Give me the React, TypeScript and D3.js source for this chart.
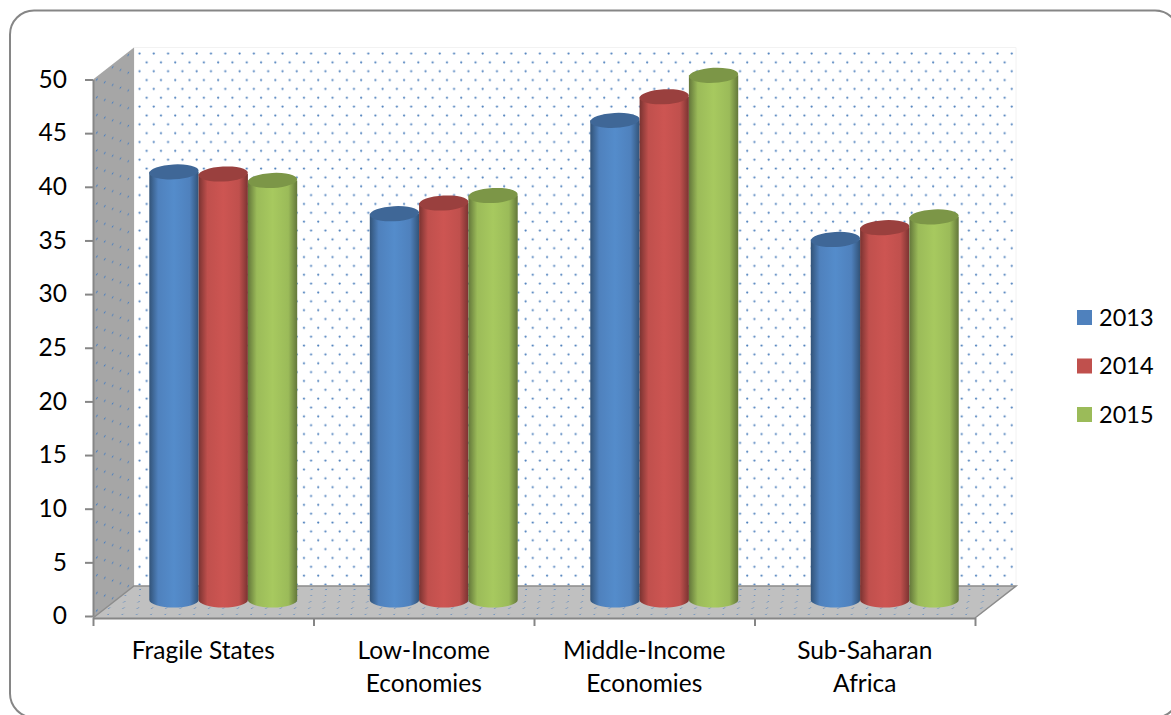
import { useEffect, useRef } from 'react';
import * as d3 from 'd3';

const categories = ['Fragile States', 'Low-Income Economies', 'Middle-Income Economies', 'Sub-Saharan Africa'];
const categoryLines = [['Fragile States'], ['Low-Income', 'Economies'], ['Middle-Income', 'Economies'], ['Sub-Saharan', 'Africa']];
const years = ['2013', '2014', '2015'];
const values2013 = [39.9, 36.0, 44.7, 33.6];
const values2014 = [39.7, 37.0, 46.9, 34.7];
const values2015 = [39.1, 37.7, 48.9, 35.7];
const yTicks = [0, 5, 10, 15, 20, 25, 30, 35, 40, 45, 50];

const seriesValues = [values2013, values2014, values2015];
const baseColors = ['#4f81bd', '#c0504d', '#9bbb59'];
const lightColors = ['#548ccb', '#cd5552', '#a7c95f'];
const edgeColors = ['#325378', '#7a3331', '#63773a'];
const capColors = ['#3f6797', '#9a403e', '#7c9647'];
const FONT = 'Lato, sans-serif';
const FONT_SIZE = 24.5;

const App: React.FC = () => {
    const svgRef = useRef<SVGSVGElement | null>(null);

    useEffect(() => {
        if (!svgRef.current) return;
        const svg = d3.select(svgRef.current);
        svg.selectAll('*').remove();

        const plot = { left: 93, right: 975, top: 79.5, bottom: 616 };
        const depth = { x: 41, y: -32 };
        const barShift = { x: 20, y: -16 };

        const y = d3.scaleLinear().domain([0, 50]).range([plot.bottom, plot.top]);
        const x0 = d3.scaleBand<string>().domain(categories).range([plot.left, plot.right]);
        const x1 = d3.scaleBand<string>().domain(years).range([0, x0.bandwidth()]).paddingOuter(0.736).paddingInner(0);
        const xEdges = d3.scaleLinear().domain([0, 4]).range([plot.left, plot.right]);

        const defs = svg.append('defs');

        // dotted fill used on the walls
        const addPattern = (id: string, bg: string, transform: string, r: number) => {
            const p = defs.append('pattern')
                .attr('id', id)
                .attr('patternUnits', 'userSpaceOnUse')
                .attr('width', 14.3)
                .attr('height', 17.7)
                .attr('patternTransform', transform);
            p.append('rect').attr('width', 14.3).attr('height', 17.7).attr('fill', bg);
            p.append('circle').attr('cx', 3.5).attr('cy', 3.5).attr('r', r).attr('fill', '#4f81bd');
            p.append('circle').attr('cx', 10.65).attr('cy', 12.35).attr('r', r).attr('fill', '#4f81bd');
        };
        addPattern('dotsBack', '#ffffff', 'translate(136,50)', 1.1);
        addPattern('dotsSide', '#a6a6a6', 'translate(93,79) skewY(-38) scale(1.1,1)', 0.85);
        addPattern('dotsFloor', '#c0c0c0', 'translate(93,618) skewX(-52) scale(1,0.7)', 0.8);

        years.forEach((yr, i) => {
            const g = defs.append('linearGradient').attr('id', `bar${yr}`).attr('x1', 0).attr('x2', 1).attr('y1', 0).attr('y2', 0);
            g.append('stop').attr('offset', '0%').attr('stop-color', edgeColors[i]);
            g.append('stop').attr('offset', '18%').attr('stop-color', baseColors[i]);
            g.append('stop').attr('offset', '50%').attr('stop-color', lightColors[i]);
            g.append('stop').attr('offset', '82%').attr('stop-color', baseColors[i]);
            g.append('stop').attr('offset', '100%').attr('stop-color', edgeColors[i]);
        });

        // frame
        svg.append('rect')
            .attr('x', 10).attr('y', 10.5)
            .attr('width', 1169).attr('height', 707)
            .attr('rx', 24).attr('fill', '#fff')
            .attr('stroke', '#868686').attr('stroke-width', 2);

        // walls and floor
        const line = d3.line();
        const poly = (pts: [number, number][]) => line(pts) + 'Z';
        const fl = plot.bottom + 2;
        svg.append('path')
            .attr('d', poly([[plot.left + depth.x, plot.top + depth.y], [plot.right + depth.x, plot.top + depth.y], [plot.right + depth.x, fl + depth.y], [plot.left + depth.x, fl + depth.y]]))
            .attr('fill', 'url(#dotsBack)')
            .attr('stroke', '#f2f2f2');
        svg.append('path')
            .attr('d', poly([[plot.left, plot.top], [plot.left + depth.x, plot.top + depth.y], [plot.left + depth.x, fl + depth.y], [plot.left, fl]]))
            .attr('fill', 'url(#dotsSide)');
        svg.append('path')
            .attr('d', poly([[plot.left, fl], [plot.left + depth.x, fl + depth.y], [plot.right + depth.x, fl + depth.y], [plot.right, fl]]))
            .attr('fill', 'url(#dotsFloor)');
        svg.append('path')
            .attr('d', line([[plot.left, fl], [plot.left + depth.x, fl + depth.y], [plot.right + depth.x, fl + depth.y], [plot.right, fl]]))
            .attr('fill', 'none').attr('stroke', '#8c8c8c').attr('stroke-width', 1.5);

        // cylinders
        const rx = x1.bandwidth() / 2;
        const ry = 7.5;
        const baseY = y(0) + barShift.y;
        categories.forEach((cat, c) => {
            years.forEach((yr, s) => {
                const v = seriesValues[s][c];
                const left = (x0(cat) as number) + (x1(yr) as number) + barShift.x;
                const cx = left + rx;
                const top = y(v) + barShift.y;
                const g = svg.append('g');
                g.append('path')
                    .attr('d', `M${left},${top}L${left},${baseY}A${rx},${ry} 0 0 0 ${left + 2 * rx},${baseY}L${left + 2 * rx},${top}Z`)
                    .attr('fill', `url(#bar${yr})`);
                g.append('ellipse')
                    .attr('cx', cx).attr('cy', top)
                    .attr('rx', rx).attr('ry', ry)
                    .attr('transform', `rotate(-3 ${cx} ${top})`)
                    .attr('fill', capColors[s]);
            });
        });

        // axes
        const styleAxis = (g: d3.Selection<SVGGElement, unknown, null, undefined>) => {
            g.selectAll('path,line').attr('stroke', '#868686').attr('stroke-width', 2);
            g.selectAll('text').attr('fill', '#000').attr('font-family', FONT).attr('font-size', FONT_SIZE);
        };
        svg.append<SVGGElement>('g')
            .attr('transform', `translate(${plot.left},0)`)
            .call(d3.axisLeft(y).tickValues(yTicks).tickSize(8).tickSizeOuter(0).tickPadding(18))
            .call(styleAxis);
        svg.append<SVGGElement>('g')
            .attr('transform', `translate(0,${fl})`)
            .call(d3.axisBottom(xEdges).ticks(4).tickFormat(() => '').tickSize(8).tickSizeOuter(0))
            .call(styleAxis);

        // category labels
        const labels = svg.append('g')
            .attr('font-family', FONT).attr('font-size', FONT_SIZE)
            .attr('text-anchor', 'middle').attr('fill', '#000');
        categories.forEach((cat, c) => {
            categoryLines[c].forEach((txt, l) => {
                labels.append('text')
                    .attr('x', (x0(cat) as number) + x0.bandwidth() / 2)
                    .attr('y', 659 + l * 33)
                    .text(txt);
            });
        });

        // legend
        const legendY = d3.scalePoint<string>().domain(years).range([317.5, 414.5]);
        const legend = svg.append('g').selectAll('g').data(years).join('g')
            .attr('transform', d => `translate(1077,${legendY(d)})`);
        legend.append('rect')
            .attr('y', -7.5).attr('width', 15).attr('height', 15)
            .attr('fill', (d, i) => baseColors[i]);
        legend.append('text')
            .attr('x', 22).attr('y', 8)
            .attr('font-family', FONT).attr('font-size', 23.5).attr('fill', '#000')
            .text(d => d);
    }, []);

    return <svg ref={svgRef} width="1171" height="715" style={{ position: 'absolute', left: 0, top: 0 }}></svg>;
};

export default App;
